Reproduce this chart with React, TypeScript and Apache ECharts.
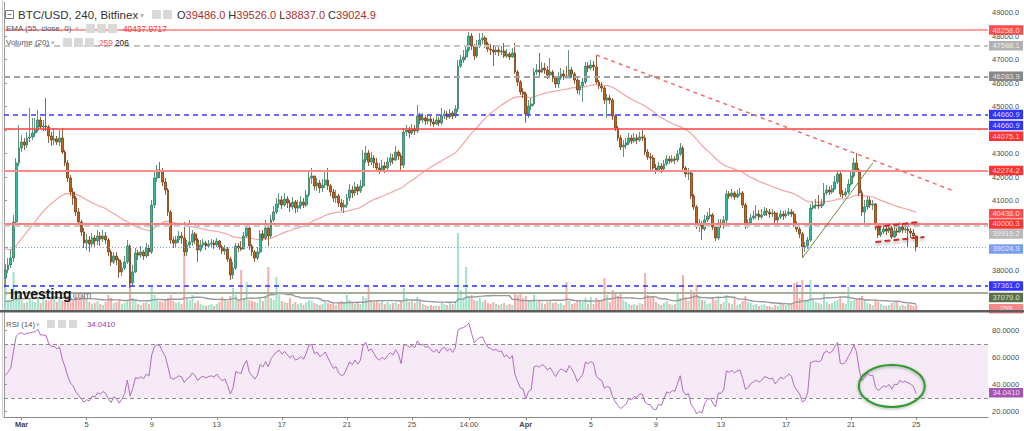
import React, { useEffect, useRef } from "react";
import * as echarts from "echarts";

// ---------- DATA ----------
const START_UTC = Date.UTC(2022, 1, 28, 0, 0); // first 4h bar
const SLOT_COUNT = 363; // bars + empty space on the right
const FIRST_OPEN = 37701;

const closes = [
  38041, 38254, 38552, 40085, 42596, 43235,
  43490, 43362, 43660, 43703, 43873, 44001,
  44427, 44129, 44171, 44129, 43745, 43575,
  43618, 43490, 43660, 43064, 42596, 41958,
  41362, 41106, 40510, 40085, 39659, 39190,
  39318, 39148, 39403, 39276, 39488, 39361,
  39488, 39318, 38808, 38382, 38637, 38467,
  37956, 38126, 38382, 39063, 37488, 37956,
  38765, 38680, 38808, 38637, 38978, 38808,
  40808, 41958, 42298, 42213, 41787, 41447,
  40510, 39318, 39190, 39318, 39488, 39403,
  38808, 39105, 39233, 39574, 39318, 38893,
  39105, 39190, 39063, 39148, 39190, 39105,
  39276, 39020, 38850, 38935, 38510, 37828,
  38126, 39063, 38978, 38935, 39488, 39829,
  39063, 38808, 38552, 38808, 39574, 39403,
  39829, 39488, 40170, 40510, 40851, 41021,
  40808, 41063, 40893, 40723, 40936, 40680,
  40765, 40936, 40808, 41234, 41958, 42043,
  41617, 41745, 41532, 41660, 41872, 41617,
  41362, 41106, 41191, 40893, 40723, 40808,
  41106, 41447, 41319, 41575, 41404, 41617,
  42724, 43022, 42639, 42809, 42596, 42383,
  42298, 42468, 42383, 42639, 42809, 42724,
  43064, 42894, 42511, 43916, 44001, 43873,
  44044, 43958, 44597, 44427, 44512, 44384,
  44469, 44342, 44256, 44427, 44299, 44597,
  44682, 44554, 44725, 44597, 44895, 46725,
  46981, 47109, 47407, 48002, 47577, 47151,
  47577, 47832, 47917, 47662, 47449, 47407,
  47321, 47407, 47321, 47364, 47151, 47236,
  47109, 47279, 46470, 46044, 45619, 45534,
  44682, 45023, 45108, 46470, 46555, 46470,
  46640, 46555, 46342, 46470, 46214, 45959,
  46214, 46385, 46300, 46214, 46555, 46385,
  46129, 45704, 45874, 46044, 46725, 46640,
  46768, 46683, 46044, 45874, 45789, 45278,
  45363, 45278, 44597, 44086, 43660, 43277,
  43362, 43447, 43660, 43533, 43660, 43575,
  43703, 43660, 43064, 42852, 42809, 42383,
  42298, 42468, 42341, 42554, 42767, 42681,
  42767, 42724, 42979, 43235, 42383, 42128,
  42170, 41191, 40723, 39914, 39999, 39786,
  40170, 40340, 40383, 39872, 39403, 40042,
  39999, 40170, 41276, 41191, 41319, 41149,
  41276, 41319, 40808, 39957, 40042, 40255,
  40340, 40425, 40297, 40383, 40553, 40510,
  40425, 40468, 40170, 40297, 40425, 40340,
  40425, 40510, 40425, 39999, 39786, 39574,
  39020, 39063, 39318, 40680, 40765, 40808,
  40765, 40851, 41319, 41447, 41362, 41489,
  41787, 42128, 41276, 41234, 41362, 41702,
  42043, 42596, 42298, 41319, 40510, 40723,
  41021, 40808, 40851, 39872, 39531, 39659,
  39786, 39701, 39829, 39446, 39701, 39659,
  39872, 39744, 39786, 39701, 39616, 39486,
  39024.9,
];

const highs = [
  38296, 38552, 38893, 40383, 42809, 44214,
  43788, 43660, 43916, 44937, 44512, 44512,
  44852, 44554, 44427, 45363, 44214, 43916,
  44086, 43745, 44001, 44086, 43150, 42724,
  42085, 41532, 41191, 40680, 40170, 39829,
  39574, 39488, 39616, 39531, 39744, 39659,
  39744, 39659, 39403, 38893, 38808, 38808,
  38552, 38382, 38637, 39318, 39148, 38254,
  38978, 38893, 39063, 38893, 39190, 39105,
  41021, 42213, 42511, 42639, 42383, 41958,
  41532, 40595, 39446, 39488, 39701, 39659,
  40085, 39318, 40170, 39744, 39659, 39403,
  39318, 39361, 39276, 39318, 39361, 39318,
  39403, 39318, 39105, 39105, 39020, 38595,
  38382, 39190, 39190, 39276, 39659, 40042,
  39914, 39148, 38893, 39020, 39744, 39744,
  40170, 39914, 40383, 40765, 41106, 41319,
  41191, 41319, 41191, 41021, 41149, 41021,
  41021, 41191, 41106, 41447, 42298, 42383,
  42043, 41958, 41872, 41915, 42213, 42383,
  41702, 41489, 41447, 41276, 41063, 41021,
  41276, 41702, 41617, 41787, 41702, 41872,
  43150, 43320, 43150, 43064, 42937, 42809,
  42596, 42724, 42639, 42852, 43022, 42979,
  43320, 43150, 43022, 44086, 44214, 44129,
  44256, 44214, 45065, 44725, 44725, 44639,
  44682, 44597, 44512, 44597, 44554, 44937,
  44852, 44810, 44895, 44810, 45065, 46981,
  47194, 47407, 47619, 48173, 48130, 47662,
  47832, 48130, 48130, 48002, 47747, 47662,
  47619, 47577, 47534, 47577, 47705, 47449,
  47321, 47492, 47705, 46555, 46129, 45789,
  45619, 45278, 45363, 46640, 46810, 47279,
  46896, 46853, 46725, 47066, 46555, 46300,
  46470, 46640, 46555, 46725, 47407, 46683,
  46470, 46214, 46129, 46214, 46896, 46896,
  46981, 46938, 47194, 46129, 46044, 45874,
  45534, 45491, 45363, 44682, 44171, 43788,
  43575, 43660, 43873, 43788, 43873, 43831,
  43916, 44001, 43788, 43192, 43022, 42937,
  42554, 42639, 42596, 42724, 42937, 42894,
  42937, 42894, 43150, 43447, 43320, 42468,
  42383, 42255, 41276, 40808, 40212, 40127,
  40383, 40510, 40680, 40468, 39999, 40212,
  40212, 40340, 41447, 41404, 41489, 41404,
  41447, 41532, 41404, 40893, 40212, 40425,
  40553, 40808, 40595, 40638, 40723, 40680,
  40638, 40638, 40553, 40510, 40595, 40553,
  40595, 40680, 40638, 40553, 40127, 39914,
  39659, 39233, 39446, 40851, 40936, 41063,
  41234, 41063, 41745, 41660, 41617, 41660,
  42043, 42298, 42213, 41447, 41532, 41915,
  42298, 42809, 43022, 42383, 41447, 41021,
  41191, 41149, 41021, 40893, 39957, 39914,
  39957, 39914, 39999, 39914, 39872, 39829,
  40085, 39957, 39957, 39914, 39829, 39786,
  39526,
];

const lows = [
  37317, 37913, 38126, 38382, 39957, 42468,
  43064, 43150, 43235, 43490, 43575, 43703,
  43916, 44044, 43958, 43958, 43447, 43320,
  43362, 43362, 43320, 42979, 42468, 41787,
  41191, 40808, 40340, 39914, 39488, 38978,
  38893, 38808, 39020, 38978, 39105, 39063,
  39233, 39148, 38637, 38212, 38297, 38254,
  37701, 37786, 38041, 38297, 37275, 37360,
  37913, 38467, 38552, 38467, 38552, 38637,
  38723, 40680, 41787, 41958, 41617, 41234,
  40340, 39148, 38978, 39020, 39190, 39148,
  38637, 38637, 38978, 39063, 39148, 38382,
  38808, 38978, 38893, 38978, 39020, 38935,
  39020, 38893, 38723, 38680, 38382, 37615,
  37658, 38041, 38808, 38850, 38978, 39403,
  38893, 38637, 38382, 38467, 38723, 39276,
  39318, 39063, 39403, 40085, 40425, 40680,
  40638, 40723, 40680, 40510, 40595, 40468,
  40510, 40638, 40680, 40723, 41149, 41702,
  41447, 41404, 41319, 41362, 41532, 41447,
  41191, 40936, 40893, 40723, 40553, 40468,
  40680, 40978, 41106, 41191, 41234, 41319,
  41532, 42596, 42468, 42511, 42383, 42213,
  42128, 42213, 42170, 42298, 42468, 42554,
  42681, 42724, 42298, 42383, 43745, 43660,
  43788, 43788, 43873, 44256, 44299, 44214,
  44256, 44171, 44129, 44214, 44171, 44214,
  44469, 44427, 44469, 44469, 44512, 44767,
  46640, 46853, 46981, 47321, 47407, 46981,
  47066, 47492, 47662, 47492, 47321, 47194,
  46725, 47194, 47151, 47194, 47066, 47066,
  46981, 47066, 46385, 45874, 45491, 45363,
  44299, 44512, 44852, 45023, 46342, 46300,
  46427, 46385, 46172, 46214, 46044, 45789,
  45789, 46129, 46129, 46214, 46342, 46214,
  45959, 45534, 45491, 45193, 45959, 46470,
  46555, 46512, 45959, 45746, 45619, 45108,
  44512, 45108, 44427, 43958, 43533, 43150,
  42852, 43192, 43362, 43405, 43447, 43405,
  43490, 43533, 42937, 42724, 42298, 42255,
  42128, 42213, 42170, 42298, 42468, 42554,
  42596, 42554, 42639, 42894, 42213, 41996,
  41872, 41063, 40595, 39786, 39659, 39318,
  39701, 40085, 40212, 39744, 39276, 39318,
  39829, 39786, 39999, 41063, 41106, 41021,
  41106, 41191, 40680, 39786, 39829, 39957,
  40170, 40212, 40170, 40212, 40340, 40340,
  40255, 40297, 40042, 39999, 40212, 40170,
  40255, 40340, 40297, 39872, 39659, 39403,
  38595, 38808, 38935, 39233, 40595, 40638,
  40638, 40680, 40765, 41234, 41234, 41276,
  41447, 41702, 41149, 41106, 41149, 41276,
  41617, 41958, 42213, 41191, 40340, 39914,
  40595, 40680, 40595, 39744, 39403, 39446,
  39574, 39531, 39616, 39361, 39403, 39488,
  39616, 39616, 39616, 39020, 39403, 39361,
  38837,
];

const volumes = [
  1150, 400, 500, 1900, 1000, 750,
  500, 350, 400, 600, 450, 400,
  550, 350, 900, 500, 450, 600,
  600, 400, 600, 450, 500, 700,
  550, 450, 750, 600, 750, 700,
  600, 400, 300, 350, 450, 300,
  250, 400, 750, 600, 350, 400,
  500, 300, 350, 450, 1400, 600,
  500, 300, 250, 350, 400, 300,
  1150, 750, 500, 450, 400, 500,
  600, 750, 450, 350, 400, 300,
  2850, 600, 500, 750, 350, 450,
  300, 250, 200, 250, 300, 200,
  300, 400, 650, 500, 450, 700,
  1100, 750, 450, 2000, 600, 1400,
  500, 450, 400, 350, 600, 450,
  700, 2150, 600, 500, 1650, 750,
  450, 400, 350, 600, 300, 400,
  300, 350, 250, 400, 500, 450,
  350, 300, 250, 300, 400, 350,
  300, 350, 250, 400, 450, 350,
  750, 500, 350, 300, 400, 300,
  700, 600, 1150, 500, 400, 450,
  350, 500, 300, 400, 300, 350,
  400, 300, 450, 1100, 600, 400,
  450, 350, 650, 500, 300, 250,
  200, 250, 200, 250, 200, 400,
  300, 250, 350, 300, 400, 3850,
  1000, 600, 2150, 650, 750, 500,
  450, 600, 400, 500, 350, 300,
  400, 300, 250, 300, 350, 250,
  300, 250, 900, 750, 900, 600,
  700, 450, 500, 750, 400, 450,
  350, 300, 400, 450, 350, 400,
  300, 350, 250, 1400, 450, 300,
  350, 450, 500, 400, 600, 300,
  650, 300, 600, 500, 500, 1600,
  750, 400, 1000, 900, 700, 800,
  500, 400, 300, 250, 300, 250,
  350, 300, 1850, 750, 600, 700,
  400, 300, 250, 350, 450, 300,
  250, 300, 900, 600, 1750, 650,
  450, 1000, 900, 1250, 600, 500,
  500, 300, 350, 600, 500, 650,
  300, 400, 750, 350, 300, 650,
  250, 300, 450, 700, 400, 350,
  250, 300, 200, 250, 300, 200,
  200, 150, 250, 200, 400, 300,
  250, 300, 350, 1350, 1400, 600,
  1500, 500, 450, 1500, 500, 400,
  350, 300, 900, 400, 300, 350,
  450, 500, 600, 350, 300, 1150,
  450, 500, 600, 600, 700, 500,
  350, 300, 250, 450, 400, 300,
  250, 200, 250, 350, 400, 400,
  200, 250, 200, 300, 250, 200,
  259,
];

// indicator settings / warm-up state (values before the first visible bar)
const EMA_PERIOD = 55;
const EMA_SEED = 38980;
const RSI_PERIOD = 14;
const RSI_SEED_GAIN = 150;
const RSI_SEED_LOSS = 200;
const VOL_MA_PERIOD = 20;
const VOL_MA_SEED = 400;

// x axis ticks
const tickDates = [
  "2022-03-01 00:00", "2022-03-05 00:00", "2022-03-09 00:00", "2022-03-13 00:00",
  "2022-03-17 00:00", "2022-03-21 00:00", "2022-03-25 00:00", "2022-03-28 12:00",
  "2022-04-01 00:00", "2022-04-05 00:00", "2022-04-09 00:00", "2022-04-13 00:00",
  "2022-04-17 00:00", "2022-04-21 00:00", "2022-04-25 00:00",
];
const tickLabels = ["Mar", "5", "9", "13", "17", "21", "25", "14:00", "Apr", "5", "9", "13", "17", "21", "25"];

// y axis ticks (labels that are fully hidden behind price tags in the reference are left out)
const priceTicks = [37000, 38000, 39000, 40000, 41000, 42000, 43000, 44000, 45000, 46000, 47000, 48000, 49000];
const priceLabelValues = [38000, 41000, 42000, 43000, 45000, 46000, 47000, 48000, 49000];
const rsiTicks = [20, 40, 60, 80];

// horizontal price levels drawn on the chart
const levelValues = [48258.0, 47588.1, 46283.9, 44660.9, 44075.1, 42274.2, 40000.3, 39919.2, 39024.9, 37361.0, 37079.0];
// tags on the price scale
const tagValues = [48258.0, 47588.1, 46283.9, 44660.9, 44660.9, 44075.1, 42274.2, 40438.0, 40000.3, 39919.2, 39024.9, 37361.0, 37079.0];
const volumeTagValue = 259;
const rsiTagValue = 34.041;
const rsiBand = [30, 70];

// drawn trend lines: [date, price]
const trendFrom = [
  ["2022-04-05 08:00", 47194],
  ["2022-04-18 00:00", 38552],
  ["2022-04-22 12:00", 39872],
  ["2022-04-22 12:00", 39233],
];
const trendTo = [
  ["2022-04-27 04:00", 41447],
  ["2022-04-22 08:00", 42596],
  ["2022-04-25 04:00", 40085],
  ["2022-04-25 12:00", 39446],
];
const ellipseCenter = ["2022-04-23 12:00", 39];

// legend values
const legendOHLC = ["39486.0", "39526.0", "38837.0", "39024.9"];
const legendEma = "40437.9717";
const legendVol = ["259", "206"];
const legendRsi = "34.0410";

// ---------- STYLES ----------
const FONT = "'Liberation Sans', Arial, sans-serif";
const PRICE_MIN = 36338;
const PRICE_MAX = 49450;
const VOL_MAX = 15400;
const RSI_MIN = 16;
const RSI_MAX = 93;

const levelStyles = [
  { color: "#ff7b7b", type: "solid", width: 1.5 },
  { color: "#c4c4c4", type: [6, 4], width: 2 },
  { color: "#a2a2a2", type: [6, 4], width: 2 },
  { color: "#3b3bff", type: [5, 4], width: 1.5 },
  { color: "#ff4040", type: "solid", width: 1.5 },
  { color: "#ff8c8c", type: "solid", width: 2 },
  { color: "#ff8080", type: "solid", width: 2 },
  { color: "#cccccc", type: [6, 4], width: 2 },
  { color: "#7d9bf2", type: [1, 2], width: 1 },
  { color: "#2b2bff", type: [5, 4], width: 1.5 },
  { color: "#a5ae9a", type: "solid", width: 2 },
];
const tagStyles = [
  { bg: "#ff2020", dy: 0 },
  { bg: "#9e9e9e", dy: 0 },
  { bg: "#6a6a6a", dy: 0 },
  { bg: "#0000ff", dy: 0 },
  { bg: "#0000ff", dy: 11 },
  { bg: "#ff0000", dy: 8 },
  { bg: "#ff0000", dy: 0 },
  { bg: "#ff2020", dy: 0 },
  { bg: "#ff0000", dy: 0 },
  { bg: "#a8a8a8", dy: 8 },
  { bg: "#5a86f0", dy: 2 },
  { bg: "#0000ff", dy: 0 },
  { bg: "#2f4d1f", dy: 5 },
];
const trendStyles = [
  { color: "#f26d6d", type: [4, 4], width: 1.5 },
  { color: "#6f8a3c", type: "solid", width: 1 },
  { color: "#d02a2a", type: [6, 3], width: 2, shadowBlur: 3, shadowColor: "rgba(0,0,0,0.35)", shadowOffsetY: 2 },
  { color: "#d02a2a", type: [6, 3], width: 2, shadowBlur: 3, shadowColor: "rgba(0,0,0,0.35)", shadowOffsetY: 2 },
];

// ---------- DERIVED ----------
const pad = (n: number) => String(n).padStart(2, "0");
const fmtDate = (t: number) => {
  const d = new Date(t);
  return `${d.getUTCFullYear()}-${pad(d.getUTCMonth() + 1)}-${pad(d.getUTCDate())} ${pad(d.getUTCHours())}:00`;
};
const categories = Array.from({ length: SLOT_COUNT }, (_, i) => fmtDate(START_UTC + i * 4 * 3600 * 1000));
const tickMap = new Map(tickDates.map((d, i) => [d, tickLabels[i]]));

const opens = closes.map((_, i) => (i === 0 ? FIRST_OPEN : closes[i - 1]));
const candleData = closes.map((c, i) => {
  const o = opens[i];
  return [o, c, Math.min(lows[i], o, c), Math.max(highs[i], o, c)];
});

const emaData: number[] = [];
{
  let e = EMA_SEED;
  const k = 2 / (EMA_PERIOD + 1);
  closes.forEach((c) => {
    e = e + k * (c - e);
    emaData.push(+e.toFixed(2));
  });
}

const rsiData: number[] = [];
{
  let ag = RSI_SEED_GAIN;
  let al = RSI_SEED_LOSS;
  closes.forEach((c, i) => {
    const ch = c - opens[i];
    ag = (ag * (RSI_PERIOD - 1) + Math.max(ch, 0)) / RSI_PERIOD;
    al = (al * (RSI_PERIOD - 1) + Math.max(-ch, 0)) / RSI_PERIOD;
    rsiData.push(+(al === 0 ? 100 : 100 - 100 / (1 + ag / al)).toFixed(3));
  });
}

const volMaData = volumes.map((_, i) => {
  let s = 0;
  for (let j = i - VOL_MA_PERIOD + 1; j <= i; j++) s += j >= 0 ? volumes[j] : VOL_MA_SEED;
  return +(s / VOL_MA_PERIOD).toFixed(1);
});

const volumeData = volumes.map((v, i) => ({
  value: v,
  itemStyle: { color: closes[i] >= opens[i] ? "#9fe3c9" : "#f7aeab" },
}));

// ---------- GRAPHICS (legend / frame) ----------
function iconBoxes(x0: number, y: number, n: number, step: number, size: number) {
  const out: any[] = [];
  for (let k = 0; k < n; k++) {
    out.push({
      type: "rect",
      shape: { x: x0 + k * step, y: y - size / 2, width: size, height: size, r: 1 },
      style: { fill: "#d9d9d9" },
      z: 50,
    });
  }
  return out;
}

function baseGraphics(): any[] {
  const t = (x: number, y: number, text: string, fontSize: number, fill: string, extra: any = {}) => ({
    type: "text",
    x,
    y,
    z: 50,
    style: { text, fontSize, fill, fontFamily: FONT, verticalAlign: "middle", align: "left", ...extra },
  });
  return [
    { type: "line", shape: { x1: 2.5, y1: 0, x2: 2.5, y2: 417 }, style: { stroke: "#cfcfcf", lineWidth: 1 }, z: 40 },
    { type: "rect", shape: { x: 0, y: 310, width: 1024, height: 2.5 }, style: { fill: "#5c5c5c" }, z: 100 },
    // line 1
    { type: "rect", shape: { x: 5.5, y: 10.5, width: 8, height: 8 }, style: { fill: "#fff", stroke: "#777", lineWidth: 1 }, z: 50 },
    { type: "line", shape: { x1: 7.5, y1: 14.5, x2: 11.5, y2: 14.5 }, style: { stroke: "#777", lineWidth: 1 }, z: 51 },
    t(18, 15, "BTC/USD, 240, Bitfinex", 11.5, "#333"),
    t(140, 15, "▾", 8, "#b5b5b5"),
    ...iconBoxes(152, 14.5, 2, 11, 9),
    {
      type: "text",
      x: 177,
      y: 15,
      z: 50,
      style: {
        text: `{l|O}{v|${legendOHLC[0]}} {l|H}{v|${legendOHLC[1]}} {l|L}{v|${legendOHLC[2]}} {l|C}{v|${legendOHLC[3]}}`,
        fontFamily: FONT,
        fontSize: 11,
        verticalAlign: "middle",
        rich: {
          l: { fill: "#333", fontSize: 11, fontFamily: FONT },
          v: { fill: "#a8322d", fontSize: 11, fontFamily: FONT },
        },
      },
    },
    // line 2
    t(6, 28.5, "EMA (55, close, 0)", 8, "#555"),
    t(75, 28.5, "▾", 7, "#b5b5b5"),
    ...iconBoxes(86, 28.5, 3, 11, 9),
    t(123, 28.5, legendEma, 8.3, "#ff3030"),
    // line 3
    t(6, 42.5, "Volume (20)", 8, "#555"),
    t(51, 42.5, "▾", 7, "#b5b5b5"),
    ...iconBoxes(63, 42.5, 3, 11, 9),
    t(99, 42.5, legendVol[0], 8.3, "#f25c5c"),
    t(115, 42.5, legendVol[1], 8.3, "#222"),
    // RSI legend
    t(6, 324, "RSI (14)", 7.8, "#555"),
    t(36, 324, "▾", 7, "#b5b5b5"),
    ...iconBoxes(47, 324, 3, 11, 8),
    t(87, 324, legendRsi, 7.8, "#9b3aa8"),
    // logo
    t(10, 294, "Investing", 14, "#151515", { fontWeight: "bold" }),
    t(70, 295, ".com", 10, "#777"),
  ];
}

// ---------- COMPONENT ----------
export default function App() {
  const ref = useRef<HTMLDivElement>(null);

  useEffect(() => {
    if (!ref.current) return;
    const chart = echarts.init(ref.current, null, { renderer: "svg" });

    const tickInterval = (_idx: number, value: string) => tickMap.has(value);

    const levelLines = levelValues.map((v, i) => ({
      yAxis: v,
      lineStyle: { color: levelStyles[i].color, type: levelStyles[i].type as any, width: levelStyles[i].width },
    }));
    const trendLines = trendFrom.map((f, i) => [
      { coord: f, lineStyle: { ...trendStyles[i], type: trendStyles[i].type as any } },
      { coord: trendTo[i] },
    ]);

    const tagData = tagValues.map((v, i) => ({
      value: [1, v],
      itemStyle: { color: tagStyles[i].bg },
      symbolOffset: [18, tagStyles[i].dy],
    }));

    const option: any = {
      animation: false,
      backgroundColor: "#ffffff",
      textStyle: { fontFamily: FONT },
      grid: [
        { left: 4, right: 36, top: 2, height: 308 },
        { left: 4, right: 36, top: 313, height: 104 },
      ],
      xAxis: [
        {
          type: "category", gridIndex: 0, data: categories, boundaryGap: true,
          axisLine: { show: false }, axisTick: { show: false }, axisLabel: { show: false }, splitLine: { show: false },
        },
        { type: "value", gridIndex: 0, min: 0, max: 1, show: false },
        {
          type: "category", gridIndex: 1, data: categories, boundaryGap: true,
          axisLine: { show: true, lineStyle: { color: "#8a8a8a" } },
          axisTick: { show: true, interval: tickInterval, alignWithLabel: true, length: 3, lineStyle: { color: "#8a8a8a" } },
          axisLabel: {
            interval: tickInterval,
            formatter: (value: string) => {
              const l = tickMap.get(value) || "";
              return l === "Mar" || l === "Apr" ? `{b|${l}}` : l;
            },
            fontSize: 7.5,
            color: "#4d4d4d",
            margin: 3,
            rich: { b: { fontWeight: "bold", fontSize: 7.5, color: "#444", fontFamily: FONT } },
          },
          splitLine: { show: false },
        },
        { type: "value", gridIndex: 1, min: 0, max: 1, show: false },
      ],
      yAxis: [
        {
          type: "value", gridIndex: 0, position: "right", min: PRICE_MIN, max: PRICE_MAX,
          axisLine: { show: true, lineStyle: { color: "#9a9a9a" } },
          axisTick: { show: true, length: 3, customValues: priceTicks, lineStyle: { color: "#9a9a9a" } },
          axisLabel: {
            customValues: priceLabelValues,
            formatter: (v: number) => v.toFixed(1),
            fontSize: 7.5, color: "#4d4d4d", margin: 4,
          },
          splitLine: { show: false },
        },
        { type: "value", gridIndex: 0, min: 0, max: VOL_MAX, show: false },
        {
          type: "value", gridIndex: 1, position: "right", min: RSI_MIN, max: RSI_MAX,
          axisLine: { show: true, lineStyle: { color: "#9a9a9a" } },
          axisTick: { show: true, length: 3, customValues: rsiTicks, lineStyle: { color: "#9a9a9a" } },
          axisLabel: {
            customValues: rsiTicks,
            formatter: (v: number) => v.toFixed(4),
            fontSize: 7.5, color: "#4d4d4d", margin: 4,
          },
          splitLine: { show: false },
        },
      ],
      series: [
        {
          type: "candlestick",
          xAxisIndex: 0, yAxisIndex: 0,
          data: candleData,
          barWidth: "85%",
          z: 4,
          silent: true,
          itemStyle: {
            color: "#29bfa3",
            color0: "#c4661c",
            borderColor: "#3b7a5c",
            borderColor0: "#7a3b10",
            borderWidth: 0.8,
          },
          markLine: {
            silent: true,
            symbol: ["none", "none"],
            label: { show: false },
            data: [...levelLines, ...trendLines],
          },
        },
        {
          type: "line",
          xAxisIndex: 0, yAxisIndex: 0,
          data: emaData,
          showSymbol: false,
          silent: true,
          z: 3,
          lineStyle: { color: "#f5a3a3", width: 1.2 },
        },
        {
          type: "bar",
          xAxisIndex: 0, yAxisIndex: 1,
          data: volumeData,
          barWidth: "75%",
          silent: true,
          z: 1,
        },
        {
          type: "line",
          xAxisIndex: 0, yAxisIndex: 1,
          data: volMaData,
          showSymbol: false,
          silent: true,
          z: 2,
          lineStyle: { color: "#9a9a9a", width: 1.4 },
        },
        {
          type: "scatter",
          xAxisIndex: 1, yAxisIndex: 0,
          data: tagData,
          symbol: "rect",
          symbolSize: [34, 9.5],
          clip: false,
          silent: true,
          z: 20,
          label: {
            show: true, position: "inside", color: "#fff", fontSize: 7.5, fontFamily: FONT,
            formatter: (p: any) => Number(p.value[1]).toFixed(1),
          },
        },
        {
          type: "scatter",
          xAxisIndex: 1, yAxisIndex: 1,
          data: [{ value: [1, volumeTagValue], symbolOffset: [18, 4] }],
          symbol: "rect",
          symbolSize: [34, 9.5],
          clip: false,
          silent: true,
          z: 19,
          itemStyle: { color: "#f26b6b" },
          label: {
            show: true, position: "inside", color: "#fff", fontSize: 7.5, fontFamily: FONT,
            formatter: (p: any) => String(p.value[1]),
          },
        },
        {
          type: "line",
          xAxisIndex: 2, yAxisIndex: 2,
          data: rsiData,
          showSymbol: false,
          silent: true,
          z: 3,
          lineStyle: { color: "#b36ac2", width: 1 },
          markArea: {
            silent: true,
            itemStyle: { color: "rgba(153, 51, 170, 0.1)" },
            data: [[{ yAxis: rsiBand[0] }, { yAxis: rsiBand[1] }]],
          },
          markLine: {
            silent: true,
            symbol: ["none", "none"],
            label: { show: false },
            lineStyle: { color: "#8c8c8c", type: [4, 3], width: 1 },
            data: rsiBand.map((v) => ({ yAxis: v })),
          },
        },
        {
          type: "scatter",
          xAxisIndex: 3, yAxisIndex: 2,
          data: [{ value: [1, rsiTagValue], symbolOffset: [18, 0] }],
          symbol: "rect",
          symbolSize: [34, 9.5],
          clip: false,
          silent: true,
          z: 20,
          itemStyle: { color: "#8f2a9e" },
          label: {
            show: true, position: "inside", color: "#fff", fontSize: 7.5, fontFamily: FONT,
            formatter: (p: any) => Number(p.value[1]).toFixed(4),
          },
        },
      ],
      graphic: baseGraphics(),
    };

    chart.setOption(option);

    const c = chart.convertToPixel({ seriesIndex: 6 }, ellipseCenter as any) as number[];
    if (c && isFinite(c[0]) && isFinite(c[1])) {
      chart.setOption({
        graphic: [
          ...baseGraphics(),
          {
            type: "ellipse",
            z: 60,
            shape: { cx: c[0], cy: c[1], rx: 33, ry: 21 },
            style: {
              fill: "none",
              stroke: "#2f9a2f",
              lineWidth: 2,
              shadowBlur: 3,
              shadowColor: "rgba(0,0,0,0.35)",
              shadowOffsetY: 1,
            },
          },
        ],
      });
    }

    return () => chart.dispose();
  }, []);

  return (
    <div
      ref={ref}
      style={{ position: "fixed", left: 0, top: 0, width: 1024, height: 431, background: "#fff" }}
    />
  );
}
